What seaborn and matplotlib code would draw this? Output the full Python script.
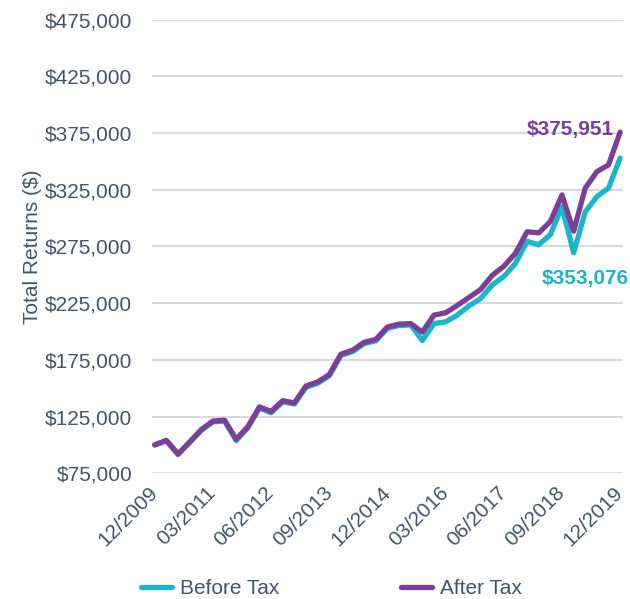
import matplotlib
matplotlib.use('Agg')
import matplotlib.pyplot as plt
import pandas as pd
import seaborn as sns

# 분기별 누적 수익 (12/2009 ~ 12/2019)
quarters = [str(p.strftime('%m/%Y')) for p in pd.period_range('2009Q4', '2019Q4', freq='Q')]

after_tax = [100000, 104000, 92000, 102500, 113500, 121000, 121800, 105000, 116000, 133500,
             129500, 139000, 137000, 152000, 155500, 162000, 180000, 183500, 190500, 193000,
             204000, 206500, 207000, 199500, 214500, 216500, 223000, 230000, 237000, 249500,
             257500, 269000, 288000, 287000, 297000, 320500, 288500, 326500, 341000, 347000,
             375951]
before_tax = [100000, 103500, 91500, 102000, 112800, 120300, 121000, 103800, 115000, 132500,
              128300, 138000, 136000, 150800, 154300, 161000, 178800, 182300, 189300, 191800,
              202800, 205300, 205800, 192000, 207000, 208500, 214500, 222500, 229000, 241000,
              248500, 260000, 279500, 276500, 285500, 310000, 269500, 305500, 319000, 326500,
              353076]

y_ticks = [75000, 125000, 175000, 225000, 275000, 325000, 375000, 425000, 475000]

cyan = '#1AB6CC'
purple = '#7B3F98'
text_color = '#44546A'

df = pd.DataFrame({
    'idx': list(range(len(quarters))) * 2,
    'value': before_tax + after_tax,
    'series': ['Before Tax'] * len(quarters) + ['After Tax'] * len(quarters),
})

sns.set_style('white')
plt.rcParams['font.family'] = ['Liberation Sans', 'DejaVu Sans']

fig = plt.figure(figsize=(6.3, 5.99), dpi=100)
ax = fig.add_axes([0.241, 0.210, 0.748, 0.757])

sns.lineplot(data=df, x='idx', y='value', hue='series',
             palette={'Before Tax': cyan, 'After Tax': purple},
             linewidth=3.8, ax=ax, legend=False)
for line in ax.lines:
    line.set_solid_joinstyle('round')
    line.set_solid_capstyle('round')

ax.set_ylim(75000, 475000)
ax.set_yticks(y_ticks)
ax.set_yticklabels(['${:,}'.format(v) for v in y_ticks])
ax.set_xlim(-0.25, len(quarters) - 0.75)
tick_pos = list(range(0, len(quarters), 5))
ax.set_xticks(tick_pos)
ax.set_xticklabels([quarters[i] for i in tick_pos], rotation=45, ha='right',
                   va='center', rotation_mode='anchor')

ax.grid(axis='y', color='#D9D9D9', linewidth=1.5)
ax.set_axisbelow(True)
for s in ax.spines.values():
    s.set_visible(False)
ax.tick_params(axis='y', length=0, pad=14, labelsize=15, labelcolor=text_color)
ax.tick_params(axis='x', length=0, pad=12, labelsize=15, labelcolor=text_color)

ax.set_xlabel('')
ax.set_ylabel('Total Returns ($)', fontsize=15, color=text_color, labelpad=2)

last = len(quarters) - 1
ax.annotate('${:,}'.format(after_tax[-1]), xy=(last, after_tax[-1]),
            xytext=(-6, 3), textcoords='offset pixels', ha='right', va='center',
            fontsize=15, fontweight='bold', color=purple)
ax.annotate('${:,}'.format(before_tax[-1]), xy=(last, before_tax[-1]),
            xytext=(-35, -121), textcoords='offset pixels', ha='center', va='center',
            fontsize=15, fontweight='bold', color=cyan)

handles = [plt.Line2D([], [], color=cyan, linewidth=3.8),
           plt.Line2D([], [], color=purple, linewidth=3.8)]
leg = fig.legend(handles, ['Before Tax', 'After Tax'], loc='center', ncol=2,
                 bbox_to_anchor=(0.526, 0.017), frameon=False, fontsize=15,
                 handlelength=1.5, handletextpad=0.4, columnspacing=5.8)
for t in leg.get_texts():
    t.set_color(text_color)

fig.savefig('out.png', dpi=100)
